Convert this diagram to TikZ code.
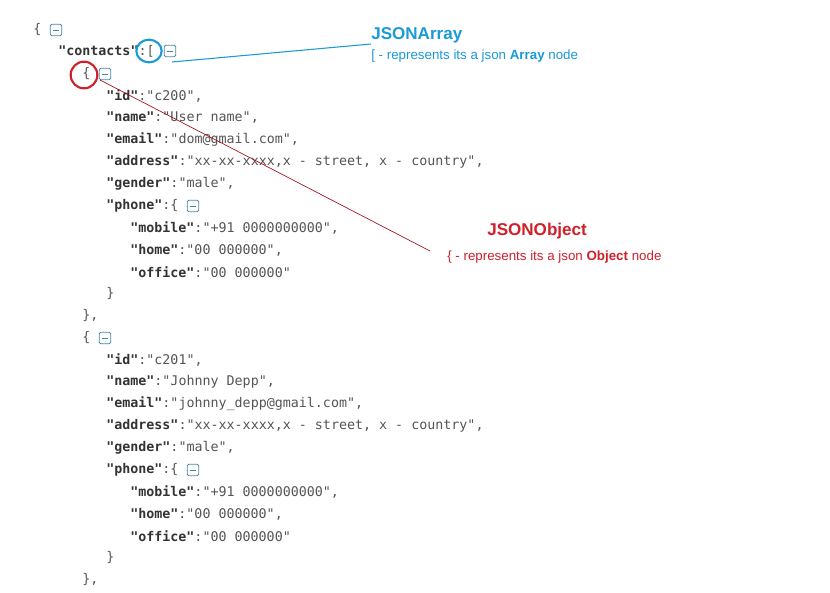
\documentclass[tikz,border=0pt]{standalone}
\usepackage{fontspec}
\usetikzlibrary{shapes.geometric}
\setmonofont{DejaVu Sans Mono}
\setsansfont{Liberation Sans}
\definecolor{txt}{HTML}{555555}
\definecolor{keyc}{HTML}{333333}
\definecolor{icon}{HTML}{4A86B0}
\definecolor{bl}{HTML}{1A9AD6}
\definecolor{rd}{HTML}{D0202A}
\definecolor{drd}{HTML}{A01020}
\newcommand{\kk}[1]{{\bfseries\color{keyc}"#1"}}
\begin{document}
\begin{tikzpicture}[x=0.75pt,y=-0.75pt,
  ln/.style={anchor=west,inner sep=0pt,font=\ttfamily\fontsize{10}{12}\selectfont,text=txt},
  mbox/.style={draw=icon,line width=0.6pt,minimum size=8.5pt,inner sep=0pt,rounded corners=1pt,
    path picture={\draw[icon,line width=0.6pt] ([xshift=2pt]path picture bounding box.west)--([xshift=-2pt]path picture bounding box.east);}},
  note/.style={anchor=west,inner sep=0pt,font=\sffamily}]
\useasboundingbox (0,0) rectangle (830,592);
\fill[white] (0,0) rectangle (830,592);
\node[ln] (l1) at (33,30) {\{};
\node[mbox] (m1) at (56,30) {};
\node[ln] (l2) at (58,51) {\kk{contacts}:[};
\node[mbox] (m2) at (170,51) {};
\node[ln] (l3) at (82,74) {\{};
\node[mbox] (m3) at (105,74) {};
\node[ln] (l4) at (106,96) {\kk{id}:"c200",};
\node[ln] (l5) at (106,118) {\kk{name}:"User name",};
\node[ln] (l6) at (106,140) {\kk{email}:"dom@gmail.com",};
\node[ln] (l7) at (106,162) {\kk{address}:"xx-xx-xxxx,x - street, x - country",};
\node[ln] (l8) at (106,184) {\kk{gender}:"male",};
\node[ln] (l9) at (106,206) {\kk{phone}:\{};
\node[mbox] (m9) at (193,206) {};
\node[ln] (l10) at (130,228) {\kk{mobile}:"+91 0000000000",};
\node[ln] (l11) at (130,250) {\kk{home}:"00 000000",};
\node[ln] (l12) at (130,272) {\kk{office}:"00 000000"};
\node[ln] (l13) at (106,294) {\}};
\node[ln] (l14) at (82,316) {\},};
\node[ln] (l15) at (82,338) {\{};
\node[mbox] (m15) at (105,338) {};
\node[ln] (l16) at (106,360) {\kk{id}:"c201",};
\node[ln] (l17) at (106,382) {\kk{name}:"Johnny Depp",};
\node[ln] (l18) at (106,404) {\kk{email}:"johnny\_depp@gmail.com",};
\node[ln] (l19) at (106,426) {\kk{address}:"xx-xx-xxxx,x - street, x - country",};
\node[ln] (l20) at (106,448) {\kk{gender}:"male",};
\node[ln] (l21) at (106,470) {\kk{phone}:\{};
\node[mbox] (m21) at (193,470) {};
\node[ln] (l22) at (130,492) {\kk{mobile}:"+91 0000000000",};
\node[ln] (l23) at (130,514) {\kk{home}:"00 000000",};
\node[ln] (l24) at (130,536) {\kk{office}:"00 000000"};
\node[ln] (l25) at (106,558) {\}};
\node[ln] (l26) at (82,580) {\},};
% annotations
\node[draw=bl,line width=1.6pt,ellipse,minimum width=19pt,minimum height=17pt,inner sep=0pt] (cb) at (149,51) {};
\node[draw=rd,line width=1.6pt,circle,minimum size=20pt,inner sep=0pt] (cr) at (84,75) {};
\node[note,text=bl,font=\sffamily\bfseries\fontsize{12.8}{14}\selectfont] (ja) at (371,35) {JSONArray};
\node[note,text=bl,font=\sffamily\fontsize{10}{12}\selectfont] (jad) at (371,56) {[ - represents its a json \textbf{Array} node};
\node[note,text=rd,font=\sffamily\bfseries\fontsize{12.8}{14}\selectfont] (jo) at (487,231) {JSONObject};
\node[note,text=rd,font=\sffamily\fontsize{10}{12}\selectfont] (jod) at (447,257) {\{ - represents its a json \textbf{Object} node};
\coordinate (ea) at (371,44);
\coordinate (eo) at (430,251);
\draw[bl,line width=0.8pt] (172,62) -- (ea);
\draw[drd,line width=0.5pt] (100,80) -- (eo);
\end{tikzpicture}
\end{document}
